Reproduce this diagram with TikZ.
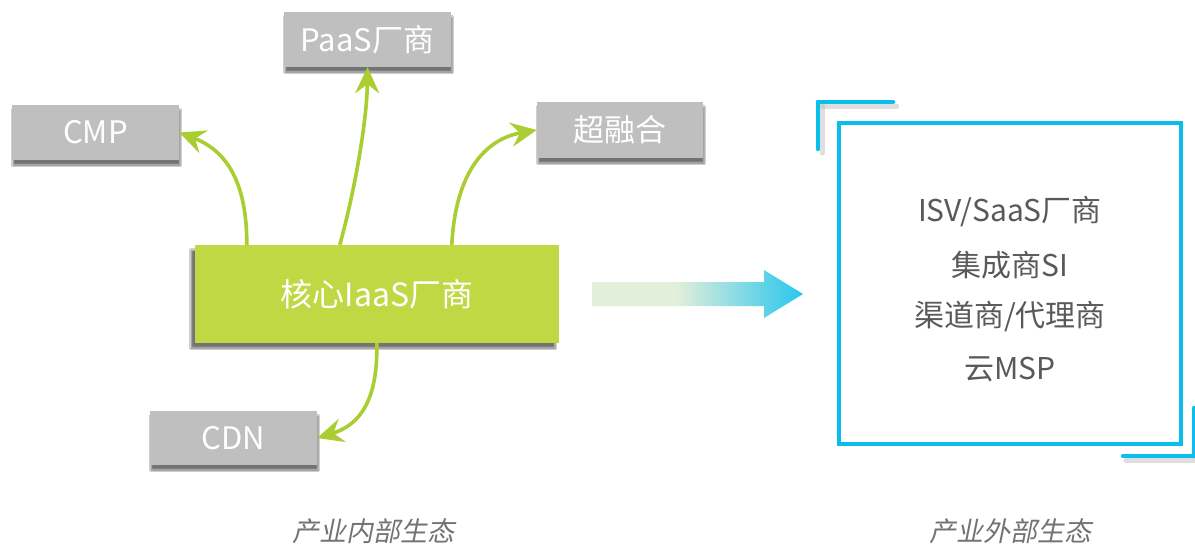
\documentclass[tikz,border=0pt]{standalone}
\usepackage{fontspec}
\newfontfamily\cjk{Noto Sans CJK SC}
\newfontfamily\cjkit{Noto Sans CJK SC}[FakeSlant=0.2]
\usetikzlibrary{arrows.meta,shadows.blur,calc}
\definecolor{boxgray}{RGB}{191,191,191}
\definecolor{coregreen}{RGB}{192,216,68}
\definecolor{linegreen}{RGB}{170,205,50}
\definecolor{lgreen}{RGB}{226,239,218}
\definecolor{cyanA}{RGB}{40,198,238}
\definecolor{frameblue}{RGB}{10,190,235}
\definecolor{txtgray}{RGB}{89,89,89}
\definecolor{capgray}{RGB}{115,115,115}
\pgfdeclarehorizontalshading{arrowshade}{100bp}{color(0bp)=(lgreen); color(45bp)=(lgreen); color(75bp)=(cyanA); color(100bp)=(cyanA)}
\tikzset{
  graybox/.style={fill=boxgray, text=white, inner sep=0pt, minimum width=167pt, minimum height=55pt,
    font=\cjk\fontsize{31}{35}\selectfont,
    blur shadow={shadow xshift=1pt, shadow yshift=-5pt, shadow blur steps=6, shadow opacity=55}},
  corebox/.style={fill=coregreen, text=white, inner sep=0pt, minimum width=364pt, minimum height=98pt,
    font=\cjk\fontsize{32}{36}\selectfont,
    blur shadow={shadow xshift=-4pt, shadow yshift=-5pt, shadow blur steps=6, shadow opacity=55}},
  link/.style={draw=linegreen, line width=3.6pt, -{Stealth[length=26pt, width=24pt, inset=9pt]}},
  frametxt/.style={text=txtgray, font=\cjk\fontsize{30}{34}\selectfont, inner sep=0pt},
  caption/.style={text=capgray, font=\cjkit\fontsize{27}{31}\selectfont, inner sep=0pt},
  bracket/.style={draw=frameblue, line width=4.5pt, line cap=round},
  bracketshadow/.style={draw=black!25, line width=5pt, line cap=round, opacity=0.5}
}
\begin{document}
\begin{tikzpicture}[x=1pt,y=-1pt]
\clip (0,0) rectangle (1195,544);
\useasboundingbox (0,0) rectangle (1195,544);
\fill[white] (0,0) rectangle (1195,544);

% left side nodes
\node[graybox] (cmp) at (95.5,132.5) {CMP};
\node[graybox] (paas) at (367.5,39.5) {PaaS厂商};
\node[graybox, minimum width=166pt, minimum height=56pt] (hci) at (620,130) {超融合};
\node[graybox, minimum height=54pt] (cdn) at (233.5,438) {CDN};
\node[corebox] (core) at (377,294) {核心IaaS厂商};

\coordinate (c1) at ([xshift=52pt]core.north west);
\coordinate (c2) at ([xshift=145pt]core.north west);
\coordinate (c3) at ([xshift=257pt]core.north west);
\coordinate (c4) at ([xshift=182pt]core.south west);

\draw[link] (c1) .. controls (247,180) and (225,150) .. (cmp.east);
\draw[link] (c2) .. controls (355,190) and (367,120) .. (paas.south);
\draw[link] (c3) .. controls (455,180) and (480,140) .. (hci.west);
\draw[link] (c4) .. controls (378,400) and (360,425) .. (cdn.east);

% gradient arrow
\shade[shading=arrowshade] (592,282) -- (764,282) -- (764,270) -- (803,294) -- (764,318) -- (764,306) -- (592,306) -- cycle;

% right frame
\draw[bracketshadow] (822,106) -- (897,106);
\draw[bracketshadow] (822,106) -- (822,153);
\draw[bracket] (818,102) -- (893,102);
\draw[bracket] (818,102) -- (818,149);
\draw[bracketshadow] (1126,460) -- (1200,460);
\draw[bracket] (1194,408) -- (1194,456);
\draw[bracket] (1123,456) -- (1200,456);

\node[draw=frameblue, line width=4pt, minimum width=342pt, minimum height=321pt, inner sep=0pt] (frame) at (1010,283.5) {};
\node[frametxt] (t1) at (1010,212) {ISV/SaaS厂商};
\node[frametxt] (t2) at (1010,265) {集成商SI};
\node[frametxt] (t3) at (1010,317) {渠道商/代理商};
\node[frametxt] (t4) at (1010,369) {云MSP};

% captions
\node[caption] (cap1) at (373,531) {产业内部生态};
\node[caption] (cap2) at (1010,531) {产业外部生态};
\end{tikzpicture}
\end{document}
